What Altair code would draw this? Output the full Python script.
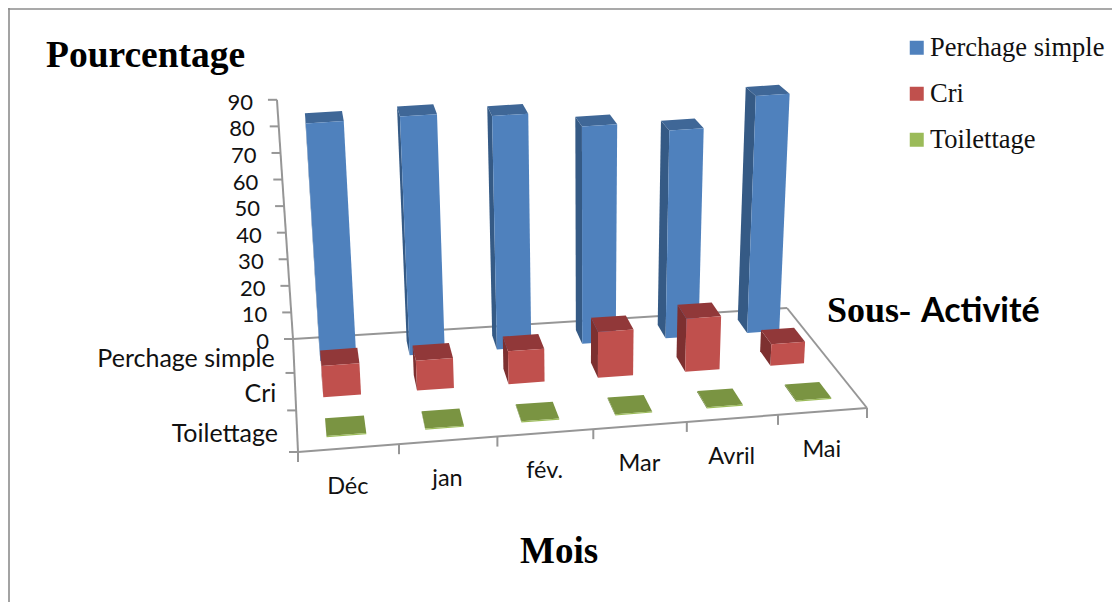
import altair as alt
import numpy as np
import pandas as pd

months = ["Déc", "jan", "fév.", "Mar", "Avril", "Mai"]
series = ["Perchage simple", "Cri", "Toilettage"]
perchage = [86.7, 87, 85, 79, 75.5, 86]
cri = [11, 10.5, 11.5, 16, 18.5, 7.5]
toilettage = [0.4, 0.4, 0.4, 0.4, 0.4, 0.4]
value_ticks = [0, 10, 20, 30, 40, 50, 60, 70, 80, 90]
values = [perchage, cri, toilettage]

front_col = ["#4F81BD", "#C0504D", "#9BBB59"]
top_col = ["#3F6797", "#913839", "#7A9442"]
side_col = ["#355A85", "#7D3030", "#6A8238"]

# Perspective camera of the 3-D chart: floor homography + vertical vanishing point
src = [(0, 0), (1, 0), (1, 1), (0, 1)]
dst = [(293, 339), (787, 308), (867, 408), (298, 452)]
A, b = [], []
for (u, v), (X, Y) in zip(src, dst):
    A.append([u, v, 1, 0, 0, 0, -u * X, -v * X]); b.append(X)
    A.append([0, 0, 0, u, v, 1, -u * Y, -v * Y]); b.append(Y)
H = np.append(np.linalg.solve(np.array(A, float), np.array(b, float)), 1).reshape(3, 3)
VP = np.array([587.0, 4720.0])
A0 = 0.0546 / 90


def proj(m, s, v=0.0):
    """m: month position 0..6, s: series depth 0..3, v: percentage."""
    p = H @ np.array([m / 6, s / 3, 1.0])
    f = p[:2] / p[2]
    q = VP + (f - VP) * (1 + A0 * (1 + 0.15 * s / 3) * v)
    return float(q[0]), float(q[1])


polys = []
pid = 0


def add_poly(pts, color):
    global pid
    for k, (x, y) in enumerate(pts):
        polys.append({"pid": pid, "k": k, "x": x, "y": y, "c": color})
    pid += 1


M0, M1, S0, S1 = 0.29, 0.69, 0.28, 0.71
for si, row in enumerate(values):
    for mi, val in enumerate(row):
        l, r, b_, f_ = mi + M0, mi + M1, si + S0, si + S1
        add_poly([proj(l, b_, 0), proj(l, f_, 0), proj(l, f_, val), proj(l, b_, val)], side_col[si])
        add_poly([proj(l, b_, val), proj(r, b_, val), proj(r, f_, val), proj(l, f_, val)], top_col[si])
        add_poly([proj(l, f_, 0), proj(r, f_, 0), proj(r, f_, val), proj(l, f_, val)], front_col[si])
poly_df = pd.DataFrame(polys)

segs = []
sid = 0


def add_seg(p, q):
    global sid
    segs.append({"sid": sid, "k": 0, "x": p[0], "y": p[1]})
    segs.append({"sid": sid, "k": 1, "x": q[0], "y": q[1]})
    sid += 1


add_seg(proj(0, 0, 0), proj(0, 0, 90))
add_seg(proj(0, 0), proj(6, 0))
add_seg(proj(6, 0), proj(6, 3))
add_seg(proj(6, 3), proj(0, 3))
add_seg(proj(0, 3), proj(0, 0))
for t in value_ticks:
    p = proj(0, 0, t)
    add_seg(p, (p[0] - 9, p[1]))
for s in range(1, 4):
    p = proj(0, s)
    add_seg(p, (p[0] - 9, p[1]))
for m in range(0, 7):
    p = proj(m, 3)
    add_seg(p, (p[0], p[1] + 10))
seg_df = pd.DataFrame(segs)

X = alt.X("x:Q", scale=alt.Scale(domain=[8, 1112], nice=False, zero=False), axis=None)
Y = alt.Y("y:Q", scale=alt.Scale(domain=[602, 8], nice=False, zero=False), axis=None)

axes = alt.Chart(seg_df).mark_line(color="#969696", strokeWidth=2).encode(
    x=X, y=Y, detail="sid:N", order="k:Q"
)
bars = alt.Chart(poly_df).mark_line(interpolate="linear-closed", strokeWidth=0).encode(
    x=X, y=Y, detail="pid:N", order="k:Q",
    fill=alt.Fill("c:N", scale=None, legend=None),
    stroke=alt.value("transparent"),
)


def labels(rows, **kw):
    return alt.Chart(pd.DataFrame(rows)).mark_text(**kw).encode(x=X, y=Y, text="t:N")


TICK_FONT = "Lato"
v_df = [dict(t=str(t), x=proj(0, 0, t)[0] - 24, y=proj(0, 0, t)[1] + 3) for t in value_ticks]
v_lab = labels(v_df, font=TICK_FONT, fontSize=22, align="right", baseline="middle", color="#111")
m_df = [dict(t=n, x=proj(i + .5, 3)[0] - 1, y=proj(i + .5, 3)[1] + 38.5) for i, n in enumerate(months)]
m_lab = labels(m_df, font=TICK_FONT, fontSize=23.5, align="center", baseline="middle", color="#111")
s_df = [dict(t=n, x=proj(0, i + .5)[0] - 19, y=proj(0, i + .5)[1] + 3) for i, n in enumerate(series)]
s_lab = labels(s_df, font=TICK_FONT, fontSize=25, align="right", baseline="middle", color="#111")

serif = "Liberation Serif"
t1 = labels([dict(t="Pourcentage", x=46, y=67)], font=serif, fontSize=37.5, fontWeight="bold", align="left", baseline="alphabetic", color="#000")
t2 = labels([dict(t="Mois", x=520, y=563)], font=serif, fontSize=37, fontWeight="bold", align="left", baseline="alphabetic", color="#000")
t3 = labels([dict(t="Sous-", x=827, y=322)], font=serif, fontSize=36, fontWeight="bold", align="left", baseline="alphabetic", color="#000")
t4 = labels([dict(t="Activité", x=921, y=322)], font=TICK_FONT, fontSize=34, fontWeight="bold", align="left", baseline="alphabetic", color="#000")

border = alt.Chart(pd.DataFrame({"a": [0]})).mark_rule(color="#8c8c8c", strokeWidth=1.6)
b_top = border.encode(x=alt.value(0), x2=alt.value(1104), y=alt.value(1))
b_left = border.encode(x=alt.value(1), y=alt.value(0), y2=alt.value(594))

legend_src = alt.Chart(pd.DataFrame({"s": series, "x": [20.0] * 3, "y": [20.0] * 3})).mark_square(size=0, opacity=1).encode(
    x=X, y=Y,
    color=alt.Color(
        "s:N",
        scale=alt.Scale(domain=series, range=front_col),
        sort=series,
        legend=alt.Legend(
            orient="none", legendX=895.5, legendY=26.5, title=None,
            symbolType="square", symbolSize=196, symbolStrokeWidth=0, symbolOpacity=1,
            labelFont=serif, labelFontSize=26.5, labelColor="#111", labelLimit=400,
            labelOffset=0, rowPadding=19,
        ),
    ),
)

chart = alt.layer(
    b_top, b_left, axes, bars, v_lab, m_lab, s_lab, t1, t2, t3, t4, legend_src
).properties(
    width=1104, height=594, padding=0, autosize=alt.AutoSizeParams(type="none"),
    background="white",
).configure_view(stroke=None)

chart.save("out.html", embed_options={"renderer": "svg", "actions": False})
